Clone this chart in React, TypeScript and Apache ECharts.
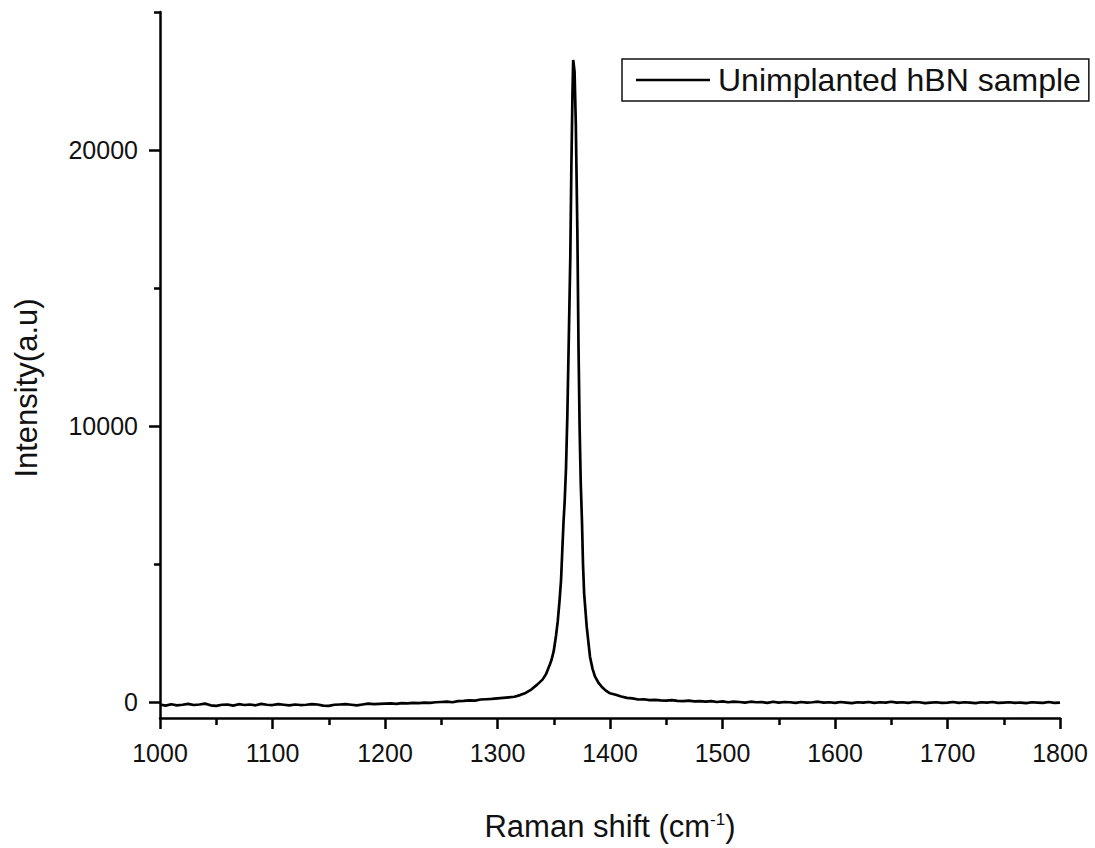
import React, { useEffect, useRef } from "react";
import * as echarts from "echarts";

// Raman shift (cm^-1)
const ramanShift: number[] = [
  1000, 1005, 1010, 1015, 1020, 1025, 1030, 1035, 1040, 1045, 1050, 1055, 1060, 1065, 1070, 1075, 1080, 1085, 1090, 1095,
  1100, 1105, 1110, 1115, 1120, 1125, 1130, 1135, 1140, 1145, 1150, 1155, 1160, 1165, 1170, 1175, 1180, 1185, 1190, 1195,
  1200, 1205, 1210, 1215, 1220, 1225, 1230, 1235, 1240, 1245, 1250, 1255, 1260, 1265, 1270, 1275, 1280, 1285, 1290, 1295,
  1300, 1305, 1310, 1315, 1320, 1325, 1330, 1335, 1340, 1343, 1346, 1348, 1350, 1352, 1353.5, 1355, 1356.5, 1357.6, 1358.7,
  1359.7, 1360.9, 1362.1, 1363.3, 1364.7, 1365.7, 1366.7, 1367.3, 1368.5, 1369.6, 1371, 1372, 1373, 1374, 1375.1, 1376,
  1377, 1379.3, 1382.2, 1384.5, 1386.7, 1390, 1392.6, 1396, 1400, 1405, 1410, 1415, 1420, 1425, 1430, 1435, 1440, 1445,
  1450, 1455, 1460, 1465, 1470, 1475, 1480, 1485, 1490, 1495, 1500, 1505, 1510, 1515, 1520, 1525, 1530, 1535, 1540, 1545,
  1550, 1555, 1560, 1565, 1570, 1575, 1580, 1585, 1590, 1595, 1600, 1605, 1610, 1615, 1620, 1625, 1630, 1635, 1640, 1645,
  1650, 1655, 1660, 1665, 1670, 1675, 1680, 1685, 1690, 1695, 1700, 1705, 1710, 1715, 1720, 1725, 1730, 1735, 1740, 1745,
  1750, 1755, 1760, 1765, 1770, 1775, 1780, 1785, 1790, 1795, 1800,
];

// Intensity (a.u)
const intensity: number[] = [
  -90, -130, -80, -120, -100, -70, -110, -90, -60, -120, -140, -100, -90, -130, -80, -110, -90, -120, -70, -100,
  -110, -80, -100, -120, -90, -110, -100, -80, -90, -130, -140, -100, -90, -80, -100, -120, -90, -60, -80, -70,
  -60, -50, -70, -40, -50, -30, -40, -20, -30, -10, 0, 10, -10, 30, 40, 60, 50, 90, 100, 110,
  130, 150, 170, 190, 250, 330, 450, 620, 810, 1000, 1300, 1520, 1850, 2400, 2900, 3600, 4420, 5500, 6533,
  7257, 8467, 10399, 12995, 16075, 19517, 22174, 23261, 22837, 20967, 17040, 12935, 9917, 7924, 6533, 5000,
  3938, 2728, 1641, 1200, 917, 680, 554, 420, 315, 260, 200, 150, 130, 90, 100, 70, 80, 60,
  50, 70, 40, 30, 50, 20, 30, 10, 30, 0, 20, -10, 10, 0, -20, 10, -10, 0, -30, 10,
  -20, 0, -10, -30, 0, -20, -10, 10, -20, -10, -30, 0, -20, -40, -10, -20, 0, -30, -10, -20,
  10, -20, -10, -30, 0, -10, -40, -20, -10, -30, -20, 0, -30, -10, -20, -40, -10, -20, 0, -30,
  -20, -10, -30, -20, -40, -10, -20, -30, 0, -30, -20,
];

const majorYTicks: number[] = [0, 10000, 20000];
const minorYTicks: number[] = [5000, 15000, 25000];

const seriesName = "Unimplanted hBN sample";
const FONT = "Liberation Sans, Arial, sans-serif";

export default function App() {
  const ref = useRef<HTMLDivElement>(null);

  useEffect(() => {
    document.body.style.margin = "0";
    if (!ref.current) return;
    const chart = echarts.init(ref.current, null, { renderer: "svg" });
    const data = ramanShift.map((x, i) => [x, intensity[i]]);
    const yMin = -580;
    const yMax = 25000;
    chart.setOption({
      animation: false,
      backgroundColor: "#fff",
      grid: { left: 160, right: 35, top: 12, bottom: 130 },
      legend: {
        show: true,
        data: [seriesName],
        left: 622,
        top: 59,
        padding: [5, 8, 5, 14],
        borderColor: "#111",
        borderWidth: 1.5,
        icon: "rect",
        itemWidth: 74,
        itemHeight: 2.5,
        itemGap: 8,
        textStyle: { fontFamily: FONT, fontSize: 32, color: "#111", padding: [0, 0, 0, 3] },
      },
      xAxis: {
        type: "value",
        min: 1000,
        max: 1800,
        interval: 100,
        name: "Raman shift (cm{sup|-1})",
        nameLocation: "middle",
        nameGap: 93,
        nameTextStyle: {
          fontFamily: FONT,
          fontSize: 31,
          color: "#111",
          rich: {
            sup: { fontFamily: FONT, fontSize: 17, color: "#111", verticalAlign: "top", padding: [0, 0, 14, 0] },
          },
        },
        axisLine: { show: true, onZero: false, lineStyle: { color: "#000", width: 2.5 } },
        axisTick: { show: true, inside: false, length: 11, lineStyle: { color: "#000", width: 2.5 } },
        minorTick: { show: true, splitNumber: 2, length: 7, lineStyle: { color: "#000", width: 2.5 } },
        axisLabel: { margin: 22, fontFamily: FONT, fontSize: 25, color: "#111", formatter: (v: number) => String(v) },
        splitLine: { show: false },
      },
      yAxis: [
        {
          type: "value",
          min: yMin,
          max: yMax,
          position: "left",
          name: "Intensity(a.u)",
          nameLocation: "middle",
          nameGap: 118,
          nameRotate: 90,
          nameTextStyle: { fontFamily: FONT, fontSize: 31, color: "#111", padding: [0, 46, 0, 0] },
          axisLine: { show: true, onZero: false, lineStyle: { color: "#000", width: 2.5 } },
          axisTick: { show: true, inside: false, length: 11, customValues: majorYTicks, lineStyle: { color: "#000", width: 2.5 } },
          axisLabel: {
            margin: 22,
            fontFamily: FONT,
            fontSize: 25,
            color: "#111",
            customValues: majorYTicks,
            formatter: (v: number) => String(v),
          },
          splitLine: { show: false },
        },
        {
          type: "value",
          min: yMin,
          max: yMax,
          position: "left",
          offset: 0,
          axisLine: { show: false },
          axisTick: { show: true, inside: false, length: 6, customValues: minorYTicks, lineStyle: { color: "#000", width: 2.5 } },
          axisLabel: { show: false, customValues: minorYTicks },
          splitLine: { show: false },
        },
      ],
      series: [
        {
          name: seriesName,
          type: "line",
          data,
          showSymbol: false,
          symbol: "none",
          lineStyle: { color: "#000", width: 2.7 },
          itemStyle: { color: "#000" },
        },
      ],
    });
    return () => chart.dispose();
  }, []);

  return <div ref={ref} style={{ width: 1095, height: 848 }} />;
}
